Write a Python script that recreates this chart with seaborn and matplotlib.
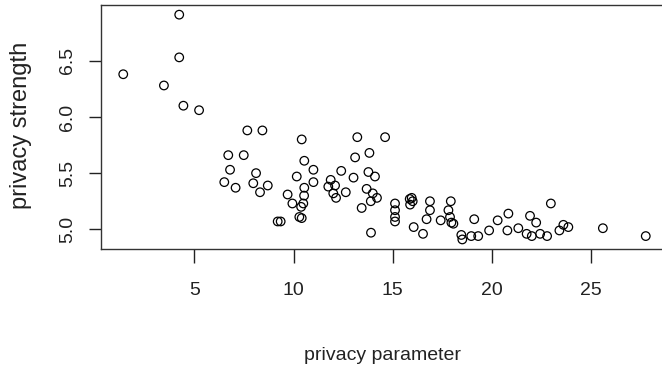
import matplotlib
matplotlib.use("Agg")
import matplotlib.pyplot as plt
import seaborn as sns
import pandas as pd

# privacy parameter vs. privacy strength
privacy_parameter = [
    1.42, 3.47, 4.24, 4.24, 4.45, 5.24, 6.51, 6.71, 6.80, 7.08,
    7.49, 7.67, 7.97, 8.11, 8.31, 8.43, 8.70, 9.20, 9.35, 9.70,
    9.94, 10.16, 10.29, 10.38, 10.41, 10.41, 10.49, 10.54, 10.54, 10.53,
    11.00, 11.00, 11.87, 11.75, 12.09, 12.00, 12.14, 12.40, 12.63, 13.02,
    13.10, 13.21, 13.43, 13.68, 13.77, 13.82, 13.89, 13.90, 13.99, 14.10,
    14.20, 14.61, 15.11, 15.11, 15.11, 15.11, 15.85, 15.95, 15.87, 16.00,
    16.05, 16.52, 16.70, 16.87, 16.87, 17.41, 17.80, 17.92, 17.88, 17.95,
    18.05, 18.45, 18.50, 18.95, 19.10, 19.30, 19.85, 20.28, 20.77, 20.82,
    21.32, 21.74, 21.91, 22.00, 22.22, 22.42, 22.77, 22.96, 23.39, 23.59,
    23.84, 25.58, 27.74,
]
privacy_strength = [
    6.38, 6.28, 6.91, 6.53, 6.10, 6.06, 5.42, 5.66, 5.53, 5.37,
    5.66, 5.88, 5.41, 5.50, 5.33, 5.88, 5.39, 5.07, 5.07, 5.31,
    5.23, 5.47, 5.11, 5.20, 5.80, 5.10, 5.23, 5.61, 5.37, 5.30,
    5.53, 5.42, 5.44, 5.38, 5.39, 5.32, 5.28, 5.52, 5.33, 5.46,
    5.64, 5.82, 5.19, 5.36, 5.51, 5.68, 5.25, 4.97, 5.32, 5.47,
    5.28, 5.82, 5.23, 5.17, 5.11, 5.07, 5.27, 5.28, 5.22, 5.25,
    5.02, 4.96, 5.09, 5.25, 5.17, 5.08, 5.17, 5.25, 5.11, 5.06,
    5.05, 4.95, 4.91, 4.94, 5.09, 4.94, 4.99, 5.08, 4.99, 5.14,
    5.01, 4.96, 5.12, 4.94, 5.06, 4.96, 4.94, 5.23, 4.99, 5.04,
    5.02, 5.01, 4.94,
]
x_ticks = [5, 10, 15, 20, 25]
y_ticks = [5.0, 5.5, 6.0, 6.5]
y_tick_labels = ["5.0", "5.5", "6.0", "6.5"]

df = pd.DataFrame({"privacy parameter": privacy_parameter,
                   "privacy strength": privacy_strength})

sns.set_style("white")
plt.rcParams["font.family"] = ["Liberation Sans", "DejaVu Sans"]

W, H = 662, 370
fig = plt.figure(figsize=(W / 100, H / 100), dpi=100)
# plot box runs a little past the right edge of the canvas
ax = fig.add_axes([101 / W, (H - 249) / H, 566 / W, 244 / H])

sns.scatterplot(data=df, x="privacy parameter", y="privacy strength", ax=ax,
                marker="o", s=38, facecolors="none", edgecolor="black",
                linewidth=0.9)

ax.set_xlim(0.30, 28.81)
ax.set_ylim(4.825, 6.996)

ax.set_xticks(x_ticks)
ax.set_xticklabels([str(t) for t in x_ticks], fontsize=14, color="#222222")
ax.set_yticks(y_ticks)
ax.set_yticklabels(y_tick_labels, fontsize=14, color="#222222",
                   rotation=90, va="center")

ax.tick_params(axis="x", direction="out", length=10, width=1.0,
               color="#222222", pad=14, bottom=True)
ax.tick_params(axis="y", direction="out", length=9, width=1.0,
               color="#222222", pad=9, left=True)

for sp in ax.spines.values():
    sp.set_visible(True)
    sp.set_color("#333333")
    sp.set_linewidth(1.0)

ax.set_xlabel("privacy parameter", fontsize=14, color="#222222")
ax.xaxis.label.set_va("center")
ax.xaxis.set_label_coords((382 - 101) / 566, (249 - 356) / 244)

ax.set_ylabel("privacy strength", fontsize=17, color="#222222")
ax.yaxis.label.set_va("center")
ax.yaxis.set_label_coords((21 - 101) / 566, (249 - 125) / 244)

fig.savefig("out.png", dpi=100, facecolor="white")
